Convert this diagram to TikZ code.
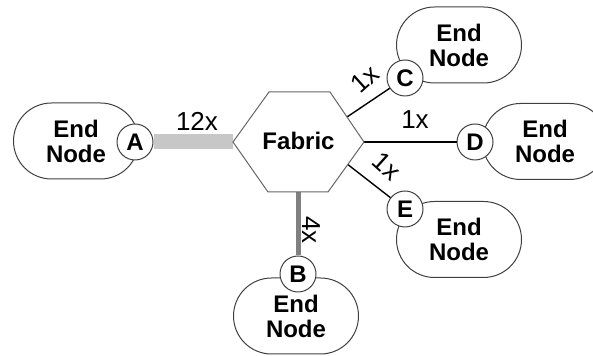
\documentclass[tikz,border=0pt]{standalone}
\usepackage{fontspec}
\setmainfont{Liberation Sans}
\usetikzlibrary{calc}
\tikzset{
  endbox/.style={draw=black!75, line width=0.5pt, fill=white, rounded corners=19pt,
    minimum width=62.5pt, minimum height=38pt, inner sep=0pt, align=center,
    font=\bfseries\fontsize{12}{12.5}\selectfont},
  port/.style={draw=black!75, line width=0.5pt, fill=white, circle, minimum size=18pt,
    inner sep=0pt, font=\bfseries\fontsize{12}{12}\selectfont},
  hexline/.style={draw=black!60, line width=0.5pt, fill=white},
  lbl/.style={font=\fontsize{13}{13}\selectfont, inner sep=0pt},
  barA/.style={draw=black!22, line width=7.5pt},
  barB/.style={draw=black!50, line width=2.5pt},
  thinlink/.style={draw=black, line width=0.7pt},
  thicklink/.style={draw=black, line width=1.3pt},
}
\begin{document}
\begin{tikzpicture}[x=0.5pt, y=-0.5pt]
\useasboundingbox (0,0) rectangle (593,356);
\clip (0,0) rectangle (593,356);
% hexagon corners
\coordinate (hL) at (233,142);
\coordinate (hTL) at (269,92);
\coordinate (hTR) at (330,92);
\coordinate (hR) at (364,142);
\coordinate (hBR) at (328,192);
\coordinate (hBL) at (268,192);
\coordinate (hB) at (298,192);
\coordinate (hC) at ($(hTR)!0.5!(hR)$);
\coordinate (hE) at ($(hR)!0.45!(hBR)$);
% end nodes
\node[endbox] (nA) at (76,141) {End\\Node};
\node[endbox] (nC) at (459,45) {End\\Node};
\node[endbox] (nD) at (545,141.5) {End\\Node};
\node[endbox] (nE) at (459,239.5) {End\\Node};
\node[endbox] (nB) at (296,316) {End\\Node};
% ports
\node[port] (A) at (135,142) {A};
\node[port] (B) at (298,274) {B};
\node[port] (C) at (405,78) {C};
\node[port] (D) at (475,142) {D};
\node[port] (E) at (405,209) {E};
% links
\draw[barA] (A) -- (hL);
\draw[barB] (hB) -- (B);
\draw[thinlink] (hC) -- (C);
\draw[thicklink] (hR) -- (D);
\draw[thinlink] (hE) -- (E);
% fabric hexagon
\path[hexline] (hL) -- (hTL) -- (hTR) -- (hR) -- (hBR) -- (hBL) -- cycle;
\node[font=\bfseries\fontsize{12}{12}\selectfont] (fab) at (298.5,141) {Fabric};
% labels
\node[lbl] (l12) at (197,121) {12x};
\node[lbl] (lD) at (415,120) {1x};
\node[lbl, rotate=-90] (lB) at (311,230) {4x};
\node[lbl, rotate=42] (lC) at (365,79) {1x};
\node[lbl, rotate=-42] (lE) at (387,166) {1x};
\end{tikzpicture}
\end{document}
